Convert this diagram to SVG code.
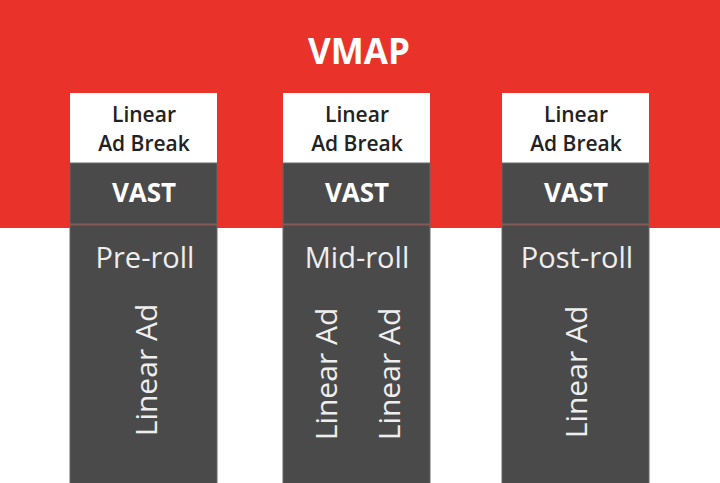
<svg xmlns="http://www.w3.org/2000/svg" width="720" height="483" viewBox="0 0 720 483">
<style>
text{font-family:"Open Sans","Noto Sans","Liberation Sans",sans-serif;text-anchor:middle}
.brk{fill:#222;font-size:21px;font-weight:600}
.vast{fill:#fff;font-size:26px;font-weight:bold}
.roll{fill:#eee;font-size:29px}
.ad{fill:#eee;font-size:30px}
.box{fill:#4a4a4a;stroke:#666;stroke-width:1}
</style>
<rect x="0" y="0" width="720" height="228" fill="#e8322a"/>
<g id="vmap"><text x="359" y="64" fill="#fff" style="font-size:35px;font-weight:bold">VMAP</text></g>
<g id="col1">
<rect x="70" y="93" width="147" height="70" fill="#fff"/>
<text class="brk" x="144" y="122">Linear</text><text class="brk" x="144" y="151">Ad Break</text>
<rect class="box" x="70" y="163" width="147" height="61"/>
<text class="vast" x="144" y="202">VAST</text>
<rect class="box" x="70" y="225" width="147" height="260"/>
<text class="roll" x="145" y="268">Pre-roll</text>
<text class="ad" transform="translate(157,370) rotate(-90)">Linear Ad</text>
</g>
<g id="col2">
<rect x="283" y="93" width="147" height="70" fill="#fff"/>
<text class="brk" x="357" y="122">Linear</text><text class="brk" x="357" y="151">Ad Break</text>
<rect class="box" x="283" y="163" width="147" height="61"/>
<text class="vast" x="357" y="202">VAST</text>
<rect class="box" x="283" y="225" width="147" height="260"/>
<text class="roll" x="357" y="268">Mid-roll</text>
<text class="ad" transform="translate(337,374) rotate(-90)">Linear Ad</text>
<text class="ad" transform="translate(400,374) rotate(-90)">Linear Ad</text>
</g>
<g id="col3">
<rect x="502" y="93" width="147" height="70" fill="#fff"/>
<text class="brk" x="576" y="122">Linear</text><text class="brk" x="576" y="151">Ad Break</text>
<rect class="box" x="502" y="163" width="147" height="61"/>
<text class="vast" x="576" y="202">VAST</text>
<rect class="box" x="502" y="225" width="147" height="260"/>
<text class="roll" x="577" y="268">Post-roll</text>
<text class="ad" transform="translate(587,372) rotate(-90)">Linear Ad</text>
</g>
<g id="connectors"/>
</svg>
